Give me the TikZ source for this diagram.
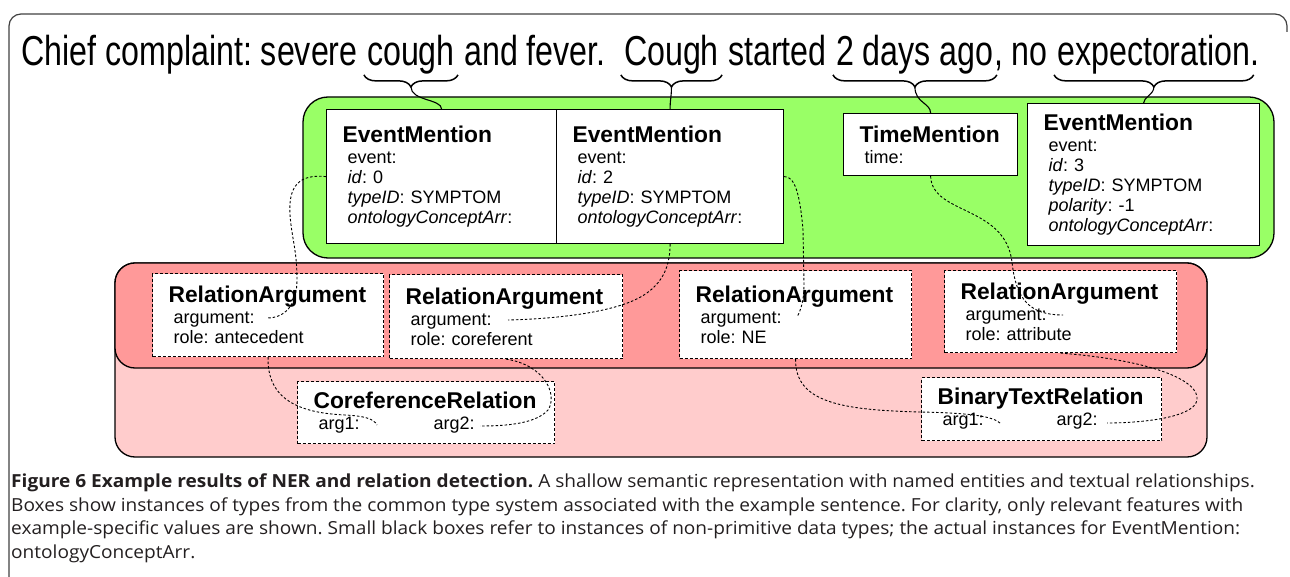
\documentclass[tikz,border=0pt]{standalone}
\usepackage{fontspec}
\setmainfont{Liberation Sans}
\newfontfamily\capfont{Open Sans}
\usepackage{graphicx}
\usetikzlibrary{decorations.pathreplacing, positioning, calc}

\definecolor{mentiongreen}{RGB}{153,255,102}
\definecolor{reldark}{RGB}{255,153,153}
\definecolor{rellight}{RGB}{255,204,204}
\definecolor{captext}{RGB}{35,31,32}

\newcommand{\sent}[1]{\scalebox{1}[1.3]{#1}}
\newcommand{\ttl}[1]{\mbox{\fontsize{22.8}{26}\selectfont\bfseries #1}}
\newcommand{\fld}[1]{\hspace*{5pt}#1}

\tikzset{
	word/.style={inner sep=0pt, font=\fontsize{32.2}{34}\selectfont},
	ubrace/.style={decorate, decoration={brace, mirror, amplitude=12pt}, line width=1.5pt},
	link/.style={line width=1.1pt},
	box/.style={anchor=north west, align=left, inner xsep=16pt, inner ysep=0pt, fill=white, draw, font=\fontsize{18}{20}\selectfont},
	mention/.style={box, line width=1.2pt},
	relbox/.style={box, line width=1.1pt, dash pattern=on 3pt off 2pt},
	refline/.style={line width=0.9pt, dash pattern=on 2.5pt off 2pt},
}

\begin{document}
\frenchspacing
\begin{tikzpicture}[x=1pt, y=-1pt]
	\useasboundingbox (0,0) rectangle (1290,577);
	\draw[line width=1.2pt, black!75, rounded corners=12pt] (9,577) -- (9,14) -- (1287,14) -- (1287,32);
	
	% sentence
	\node[word, anchor=base west] (chief) at (21,66) {\sent{Chief complaint: severe}};
	\node[word, base right=9pt of chief] (cough1) {\sent{cough}};
	\node[word, base right=9pt of cough1] (fever) {\sent{and fever.}};
	\node[word, base right=18pt of fever] (cough2) {\sent{Cough}};
	\node[word, base right=9pt of cough2] (started) {\sent{started}};
	\node[word, base right=9pt of started] (ago) {\sent{2 days ago}};
	\node[word, base right=0pt of ago] (no) {\sent{, no}};
	\node[word, base right=9pt of no] (expect) {\sent{expectoration}};
	\node[word, base right=0pt of expect] (stop) {\sent{.}};
	
	\foreach \w in {cough1, cough2, ago, expect}
		\draw[ubrace] ([xshift=-3pt]\w.south west) -- ([xshift=3pt]\w.south east);
	\coordinate (tip1) at ([yshift=-12pt]cough1.south);
	\coordinate (tip2) at ([yshift=-12pt]cough2.south);
	\coordinate (tip3) at ([yshift=-12pt]ago.south);
	\coordinate (tip4) at ([yshift=-12pt]expect.south);
	
	% mentions
	\draw[fill=mentiongreen, line width=1.3pt, rounded corners=25pt] (303,97) rectangle (1274,258);
	\node[mention, text width=198pt, minimum height=134pt] (em1) at (326,109)
		{\ttl{EventMention}\\[1pt] \fld{event:}\\ \fld{\textit{id}: 0}\\ \fld{\textit{typeID}: SYMPTOM}\\ \fld{\textit{ontologyConceptArr}:}};
	\node[mention, text width=195pt, minimum height=134pt] (em2) at (556,109)
		{\ttl{EventMention}\\[1pt] \fld{event:}\\ \fld{\textit{id}: 2}\\ \fld{\textit{typeID}: SYMPTOM}\\ \fld{\textit{ontologyConceptArr}:}};
	\node[mention, text width=142pt, minimum height=62pt] (tm) at (843,113)
		{\ttl{TimeMention}\\[1pt] \fld{time:}};
	\node[mention, text width=200pt, minimum height=142pt] (em3) at (1027,103)
		{\ttl{EventMention}\\[1pt] \fld{event:}\\ \fld{\textit{id}: 3}\\ \fld{\textit{typeID}: SYMPTOM}\\ \fld{\textit{polarity}: -1}\\ \fld{\textit{ontologyConceptArr}:}};
	
	\draw[link] (tip1) .. controls +(0,14) and +(0,-10) .. (em1.north);
	\draw[link] (tip2) .. controls +(0,10) and +(0,-10) .. (em2.north);
	\draw[link] (tip3) .. controls +(0,16) and +(0,-10) .. (tm.north);
	\draw[link] (tip4) .. controls +(0,8) and +(0,-6) .. (em3.north);
	
	% relations
	\draw[fill=rellight, line width=1.3pt, rounded corners=20pt] (115,263) rectangle (1207,457);
	\draw[fill=reldark, line width=1.3pt, rounded corners=20pt] (115,263) rectangle (1207,368);
	\node[relbox, text width=199pt, minimum height=83pt] (ra1) at (152,273)
		{\ttl{RelationArgument}\\[1pt] \fld{argument:}\\ \fld{role: antecedent}};
	\node[relbox, text width=201pt, minimum height=84pt] (ra2) at (389,274)
		{\ttl{RelationArgument}\\[1pt] \fld{argument:}\\ \fld{role: coreferent}};
	\node[relbox, text width=200pt, minimum height=88pt] (ra3) at (679,270)
		{\ttl{RelationArgument}\\[1pt] \fld{argument:}\\ \fld{role: NE}};
	\node[relbox, text width=200pt, minimum height=82pt] (ra4) at (944,270)
		{\ttl{RelationArgument}\\[1pt] \fld{argument:}\\ \fld{role: attribute}};
	\node[relbox, text width=225pt, minimum height=62pt] (cr) at (297,381)
		{\ttl{CoreferenceRelation}\\[1pt] \fld{arg1:\hspace{74pt}arg2:}};
	\node[relbox, text width=208pt, minimum height=63pt] (btr) at (921,377)
		{\ttl{BinaryTextRelation}\\[1pt] \fld{arg1:\hspace{73pt}arg2:}};
	
	\coordinate (ra1arg) at (267,318);
	\coordinate (ra2arg) at (508,320);
	\coordinate (ra3arg) at (797,317);
	\coordinate (ra4arg) at (1063,315);
	\coordinate (crarg1) at (377,425);
	\coordinate (crarg2) at (480,426);
	\coordinate (btrarg1) at (1000,423);
	\coordinate (btrarg2) at (1107,423);
	
	\draw[refline] (em1.west) .. controls (300,174) and (288,185) .. (290,215) .. controls (292,240) and (297,250) .. (297,280) .. controls (297,305) and (285,318) .. (ra1arg);
	\draw[refline] (em2.south) .. controls (670,270) and (660,290) .. (630,302) .. controls (600,314) and (550,319) .. (ra2arg);
	\draw[refline] (em2.east) .. controls (795,176) and (800,195) .. (803,230) -- (804,285) .. controls (804,300) and (801,310) .. (ra3arg);
	\draw[refline] (tm.south) .. controls (932,215) and (1005,205) .. (1012,262) .. controls (1016,300) and (1030,315) .. (ra4arg);
	\draw[refline] (ra1.south) .. controls (267,400) and (300,413) .. (345,415) .. controls (365,416) and (374,419) .. (crarg1);
	\draw[refline] (ra2.south) .. controls (545,365) and (558,395) .. (548,410) .. controls (535,425) and (500,426) .. (crarg2);
	\draw[refline] (ra3.south) .. controls (795,402) and (840,410) .. (920,412) .. controls (975,413) and (993,417) .. (btrarg1);
	\draw[refline] (ra4.south) .. controls (1150,360) and (1200,380) .. (1197,400) .. controls (1194,418) and (1140,423) .. (btrarg2);
	
	% caption
	\node[xscale=1.06, transform shape, anchor=north west, align=left, inner sep=0pt, text=captext, font=\capfont\fontsize{18}{23.5}\selectfont] (caption) at (11,474)
		{\textbf{Figure 6 Example results of NER and relation detection.} A shallow semantic representation with named entities and textual relationships.\\
		Boxes show instances of types from the common type system associated with the example sentence. For clarity, only relevant features with\\
		example-specific values are shown. Small black boxes refer to instances of non-primitive data types; the actual instances for EventMention:\\
		ontologyConceptArr.};
\end{tikzpicture}
\end{document}
